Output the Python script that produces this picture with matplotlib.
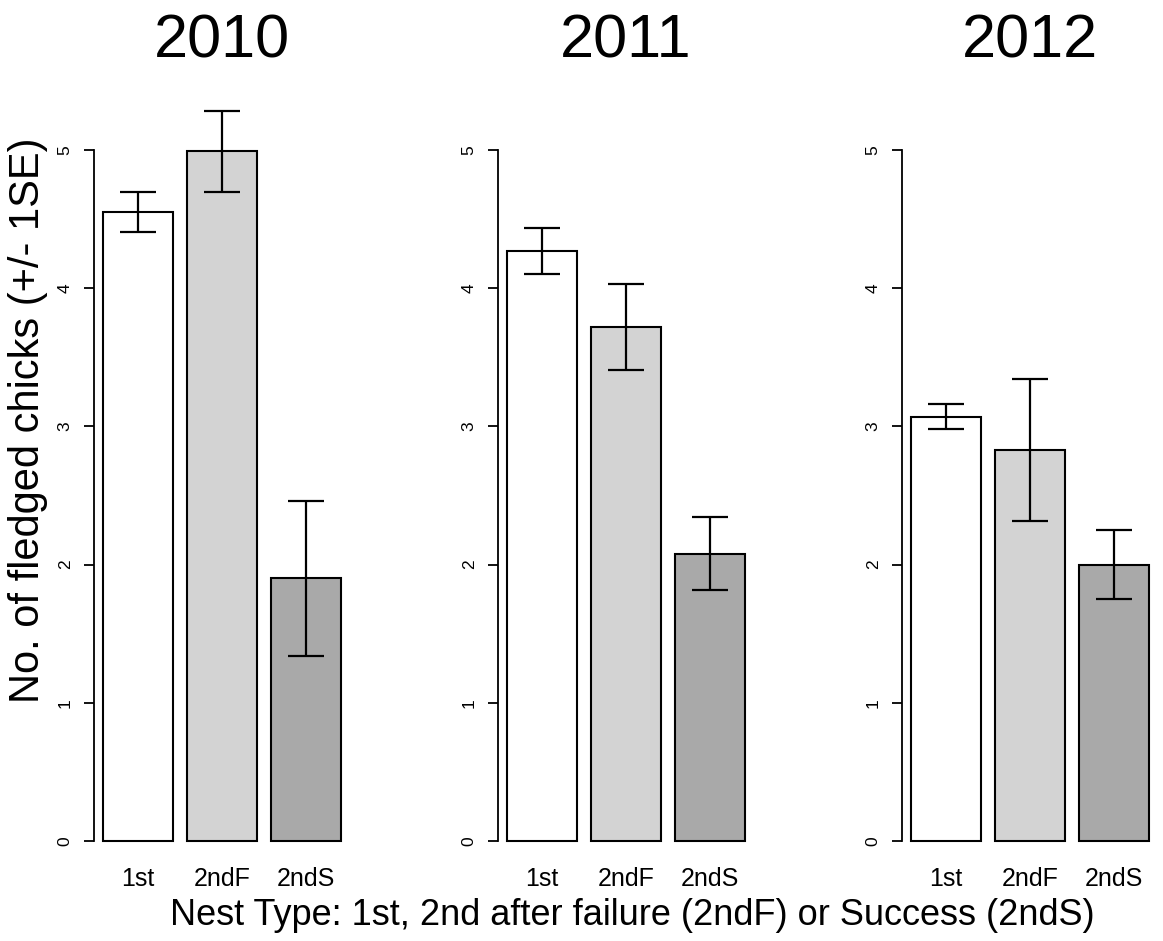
import matplotlib
matplotlib.use("Agg")
import matplotlib.pyplot as plt

plt.rcParams["font.family"] = ["Liberation Sans", "DejaVu Sans"]

years = ["2010", "2011", "2012"]
nest_types = ["1st", "2ndF", "2ndS"]
mean_fledged = {
    "2010": [4.55, 4.99, 1.90],
    "2011": [4.27, 3.72, 2.08],
    "2012": [3.07, 2.83, 2.00],
}
se_fledged = {
    "2010": [0.145, 0.295, 0.56],
    "2011": [0.165, 0.31, 0.265],
    "2012": [0.09, 0.515, 0.25],
}
bar_colors = ["white", "#D3D3D3", "#A9A9A9"]
y_ticks = [0, 1, 2, 3, 4, 5]

W, H = 1163, 941
fig = plt.figure(figsize=(W / 100, H / 100), dpi=100)

# barplot geometry: bar width 1, gap 0.2
centers = [0.7, 1.9, 3.1]
xlim = (0.064, 3.736)
px_per_x = 70.0
ylim = (-0.1, 5.5)
px_per_y = 138.2
y0_px = 841  # pixel row of y = 0
axes_left_px = [93.5, 497.5, 901.5]

ax_w = (xlim[1] - xlim[0]) * px_per_x
top_px = y0_px - ylim[1] * px_per_y
bot_px = y0_px - ylim[0] * px_per_y
ax_h = bot_px - top_px

for year, left_px in zip(years, axes_left_px):
    ax = fig.add_axes([left_px / W, (H - bot_px) / H, ax_w / W, ax_h / H])
    ax.bar(centers, mean_fledged[year], width=1.0, color=bar_colors,
           edgecolor="black", linewidth=1.5)
    ax.errorbar(centers, mean_fledged[year], yerr=se_fledged[year], fmt="none",
                ecolor="black", elinewidth=1.6, capsize=13.3, capthick=1.6,
                clip_on=False)
    ax.set_xlim(*xlim)
    ax.set_ylim(*ylim)
    for s in ["top", "right", "bottom"]:
        ax.spines[s].set_visible(False)
    ax.spines["left"].set_bounds(0, 5)
    ax.spines["left"].set_linewidth(1.3)
    ax.set_yticks(y_ticks)
    ax.set_yticklabels([str(t) for t in y_ticks], rotation=90, va="center",
                       fontsize=12.5)
    ax.tick_params(axis="y", length=7, width=1.3, pad=8)
    ax.set_xticks(centers)
    ax.set_xticklabels(nest_types, fontsize=18)
    ax.tick_params(axis="x", length=0, pad=9)
    ax.text(0.5, (bot_px - 57) / ax_h, year, transform=ax.transAxes,
            ha="center", va="baseline", fontsize=44)

fig.text(28 / W, 1 - 420 / H, "No. of fledged chicks (+/- 1SE)", rotation=90,
         ha="center", va="center", fontsize=30)
fig.text(632 / W, 1 - 925 / H,
         "Nest Type: 1st, 2nd after failure (2ndF) or Success (2ndS)",
         ha="center", va="baseline", fontsize=26)

fig.savefig("out.png", dpi=100, facecolor="white")
